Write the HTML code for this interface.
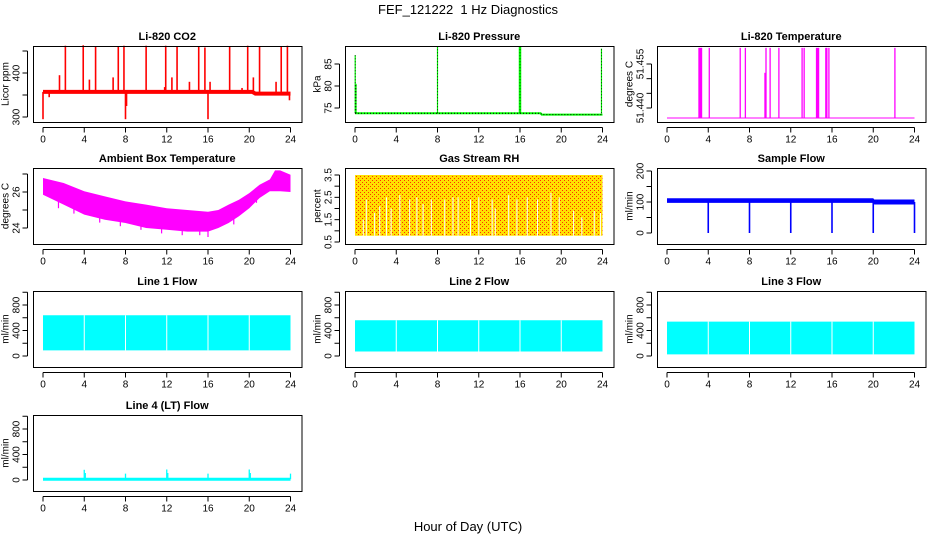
<!DOCTYPE html>
<html><head><meta charset="utf-8">
<style>
html,body{margin:0;padding:0;background:#fff;}
svg{display:block;font-family:"Liberation Sans",sans-serif;}
</style></head>
<body>
<svg id="chart" width="936" height="540" viewBox="0 0 936 540">
<defs>
<pattern id="rhpat" width="4" height="4" patternUnits="userSpaceOnUse">
<rect width="4" height="4" fill="#ffe000"/>
<rect x="0" y="0" width="1" height="1" fill="#ff3000"/>
<rect x="2" y="2" width="1" height="1" fill="#ff3000"/>
</pattern>
</defs>
<text x="468" y="14" text-anchor="middle" font-size="13">FEF_121222&#160;&#160;1 Hz Diagnostics</text>
<text x="468" y="531" text-anchor="middle" font-size="13">Hour of Day (UTC)</text>
</svg>
<script>
// ---- data ----
const xTicks=[0,4,8,12,16,20,24];
const co2BaseHours=[0,20.3,20.6,24];
const co2BaseVals=[357,357,353,353];
const co2SpikeHours=[2.17,3.9,5.1,7.3,7.85,10.0,11.9,13.0,15.1,15.7,18.1,19.85,21.0,23.1,23.7,1.6,4.5,6.8,12.5,14.2,16.2,20.4,22.6,0.0,8.0,16.0,8.1,0.6,23.9,11.8,19.3];
const co2SpikeVals=[462,463,460,460,462,462,462,460,460,458,460,462,460,460,462,395,385,390,390,380,380,390,380,295,295,295,325,345,338,368,366];
const presBaseHours=[0,18,18.1,24];
const presBaseVals=[73.8,73.8,73.5,73.5];
const presSpikeHours=[0.02,0.1,8,16,23.9];
const presSpikeVals=[87,80.5,89,89,88.5];
const tempBase=51.4366;
const tempSpikeHours=[3.1,3.2,3.3,3.35,4.1,7.1,7.6,9.5,9.6,10.0,10.85,13.1,13.3,14.5,14.6,14.7,15.4,15.5,15.7,22.1];
const tempSpikeVals=[51.4605,51.4605,51.4605,51.4605,51.4605,51.4605,51.4605,51.452,51.4605,51.4605,51.4605,51.4605,51.4605,51.4605,51.4605,51.4605,51.4605,51.4605,51.4605,51.4605];
const ambHours=[0,2,4,6,8,10,12,14,16,17,18,19,20,21,22,22.5,23,24];
const ambUpper=[26.78,26.5,26.04,25.76,25.48,25.3,25.1,25.0,24.9,25.0,25.3,25.57,25.94,26.4,26.7,27.2,27.2,26.96];
const ambLower=[25.85,25.3,24.74,24.46,24.28,24.0,23.9,23.8,23.8,24.0,24.28,24.65,25.1,25.67,26.04,26.04,26.04,26.0];
const ambSpikeHours=[16,20.7,15.2,11.5,1.5,3.0,5.5,7.5,9.5,13.5,18.5];
const ambSpikeVals=[23.5,25.4,23.6,23.7,25.1,24.8,24.3,24.1,23.9,23.6,24.2];
const rhTop=3.5, rhBottom=0.78;
const rhGapHours=[0.8,1.1,1.9,2.4,3.05,3.5,4.35,5.3,6.0,6.6,7.4,8.7,9.5,10.0,11.2,12.0,13.3,13.6,14.9,15.7,16.7,17.7,19.0,19.8,21.2,22.0,23.2,23.8];
const rhGapTops=[1.5,2.4,1.8,2.1,2.5,2.0,2.6,2.4,2.5,2.2,2.4,2.4,2.5,2.5,2.4,2.5,2.4,2.0,2.6,2.4,2.5,2.4,2.7,2.5,1.9,1.6,1.9,1.8];
const sfHours=[0,20,20.1,24];
const sfUpper=[112,112,108,108];
const sfLower=[97,97,92,92];
const sfDipHours=[4,8,12,16,20,24];
const sfDipVals=[0,0,0,0,0,0];
const l1Upper=640, l1Lower=88;
const l1GapHours=[4,8,12,16,20];
const l2Upper=560, l2Lower=70;
const l2GapHours=[4,8,12,16,20];
const l3Upper=540, l3Lower=25;
const l3GapHours=[4,8,12,16,20];
const l4Base=12;
const l4SpikeHours=[4,4.1,8,12,12.1,16,20,20.1,24];
const l4SpikeVals=[160,110,100,165,110,100,165,110,100];

// ---- layout ----
const colX0=[43,355,667], colW=247.5;
const rowTop=[46,168,291,415], boxH=76;
const svg=document.getElementById('chart');
const NS='http://www.w3.org/2000/svg';
function mk(tag,attrs,parent){const e=document.createElementNS(NS,tag);for(const k in attrs)e.setAttribute(k,attrs[k]);(parent||svg).appendChild(e);return e;}

function panel(col,row,name,title,ylab,v1,o1,v2,o2,ticks,labels){
  const g=mk('g',{});
  
  
  const x0=colX0[col], top=rowTop[row];
  const X=h=>x0+h*colW/24;
  const Y=v=>top+o1+(v-v1)*(o2-o1)/(v2-v1);
  const bl=x0-10, br=x0+colW+11;
  const t=mk('text',{x:(bl+br)/2,y:top-6,'text-anchor':'middle','font-size':11,'font-weight':'bold'},g);
  t.textContent=title;
  
  
  const plot=mk('g',{},g);
  
  
  const ax=mk('g',{stroke:'#000','stroke-width':1,fill:'none'},g);
  
  
  mk('rect',{x:bl+0.5,y:top+0.5,width:br-bl,height:boxH},ax);
  const by=top+boxH+0.5;
  mk('line',{x1:X(0),x2:X(24),y1:by+5,y2:by+5},ax);
  xTicks.forEach(h=>{
    mk('line',{x1:X(h),x2:X(h),y1:by+5,y2:by+10},ax);
    const tx=mk('text',{x:X(h),y:by+20,'text-anchor':'middle','font-size':10,fill:'#000',stroke:'none'},g);
    tx.textContent=h;
    
    
  });
  const lx=bl-5.5;
  mk('line',{x1:lx,x2:lx,y1:Y(ticks[0]),y2:Y(ticks[ticks.length-1])},ax);
  ticks.forEach((v,i)=>{
    mk('line',{x1:lx-5,x2:lx,y1:Y(v),y2:Y(v)},ax);
    if(labels[i]){
      const ty=Y(v), tx=bl-16;
      const tl=mk('text',{x:tx,y:ty,'text-anchor':'middle','font-size':10,transform:`rotate(-90 ${tx} ${ty})`,'dominant-baseline':'middle'},g);
      tl.textContent=labels[i];
      
      
    }
  });
  const yx=bl-27, yy=top+boxH/2;
  const yl=mk('text',{x:yx,y:yy,'text-anchor':'middle','font-size':10,transform:`rotate(-90 ${yx} ${yy})`,'dominant-baseline':'middle'},g);
  yl.textContent=ylab;
  
  
  return {X,Y,plot};
}
function pl(p,hs,vs,attrs){const pts=hs.map((h,i)=>p.X(h)+','+p.Y(vs[i])).join(' ');return mk('polyline',Object.assign({points:pts,fill:'none'},attrs),p.plot);}
function vline(p,h,a,b,attrs){return mk('line',Object.assign({x1:p.X(h),x2:p.X(h),y1:p.Y(a),y2:p.Y(b)},attrs),p.plot);}
function band(p,hs,up,lo,fill){const pts=hs.map((h,i)=>p.X(h)+','+p.Y(up[i])).concat(hs.slice().reverse().map((h,i)=>p.X(h)+','+p.Y(lo[hs.length-1-i]))).join(' ');return mk('polygon',{points:pts,fill:fill},p.plot);}
function interp(hs,vs,h){for(let i=1;i<hs.length;i++){if(h<=hs[i]){const f=(h-hs[i-1])/(hs[i]-hs[i-1]);return vs[i-1]+f*(vs[i]-vs[i-1]);}}return vs[vs.length-1];}

let p=panel(0,0,'co2','Li-820 CO2','Licor ppm',300,71,400,27,[300,350,400,450],['300','','400','']);
co2SpikeHours.forEach((h,i)=>vline(p,h,357,co2SpikeVals[i],{stroke:'#f00','stroke-width':1.6}));
pl(p,co2BaseHours,co2BaseVals,{stroke:'#f00','stroke-width':4});

p=panel(1,0,'pressure','Li-820 Pressure','kPa',75,62,85,18,[75,80,85],['75','80','85']);
pl(p,presBaseHours,presBaseVals,{stroke:'#0f0','stroke-width':2});
presSpikeHours.forEach((h,i)=>vline(p,h,presBaseVals[0],presSpikeVals[i],{stroke:'#0f0','stroke-width':h===16?2.5:1.2}));
pl(p,presBaseHours,presBaseVals,{stroke:'#000','stroke-width':1,'stroke-dasharray':'1 2'});
presSpikeHours.forEach((h,i)=>vline(p,h,presBaseVals[0],presSpikeVals[i],{stroke:'#000','stroke-width':0.8,'stroke-dasharray':'1 2'}));

p=panel(2,0,'li820-temperature','Li-820 Temperature','degrees C',51.440,62,51.455,18,[51.440,51.445,51.450,51.455],['51.440','','','51.455']);
pl(p,[0,24],[tempBase,tempBase],{stroke:'#f0f','stroke-width':1});
tempSpikeHours.forEach((h,i)=>vline(p,h,tempBase,tempSpikeVals[i],{stroke:'#f0f','stroke-width':1.3}));

p=panel(0,1,'ambient-temp','Ambient Box Temperature','degrees C',24,60,26,24,[24,25,26,27],['24','','26','']);
band(p,ambHours,ambUpper,ambLower,'#f0f');
ambSpikeHours.forEach((h,i)=>vline(p,h,interp(ambHours,ambLower,h)+0.1,ambSpikeVals[i],{stroke:'#f0f','stroke-width':1.2}));

p=panel(1,1,'gas-rh','Gas Stream RH','percent',0.5,74,3.5,7,[0.5,1,1.5,2,2.5,3,3.5],['0.5','','1.5','','2.5','','3.5']);
band(p,[0,24],[rhTop,rhTop],[rhBottom,rhBottom],'url(#rhpat)');
rhGapHours.forEach((h,i)=>vline(p,h,rhBottom,rhGapTops[i],{stroke:'#fff','stroke-width':1}));

p=panel(2,1,'sample-flow','Sample Flow','ml/min',0,65,200,3,[0,50,100,150,200],['0','','100','','200']);
band(p,sfHours,sfUpper,sfLower,'#00f');
sfDipHours.forEach((h,i)=>vline(p,h,100,sfDipVals[i],{stroke:'#00f','stroke-width':1.6}));

function flow(col,row,name,title,up,lo,gaps){
  const q=panel(col,row,name,title,'ml/min',0,65,800,14,[0,200,400,600,800,1000],['0','','400','','800','']);
  band(q,[0,24],[up,up],[lo,lo],'#0ff');
  gaps.forEach(h=>vline(q,h,lo,up,{stroke:'#fff','stroke-width':1}));
  return q;
}
flow(0,2,'line1-flow','Line 1 Flow',l1Upper,l1Lower,l1GapHours);
flow(1,2,'line2-flow','Line 2 Flow',l2Upper,l2Lower,l2GapHours);
flow(2,2,'line3-flow','Line 3 Flow',l3Upper,l3Lower,l3GapHours);
p=panel(0,3,'line4-flow','Line 4 (LT) Flow','ml/min',0,65,800,14,[0,200,400,600,800,1000],['0','','400','','800','']);
pl(p,[0,24],[l4Base,l4Base],{stroke:'#0ff','stroke-width':3});
l4SpikeHours.forEach((h,i)=>vline(p,h,l4Base,l4SpikeVals[i],{stroke:'#0ff','stroke-width':1.3}));
</script>
</body></html>
